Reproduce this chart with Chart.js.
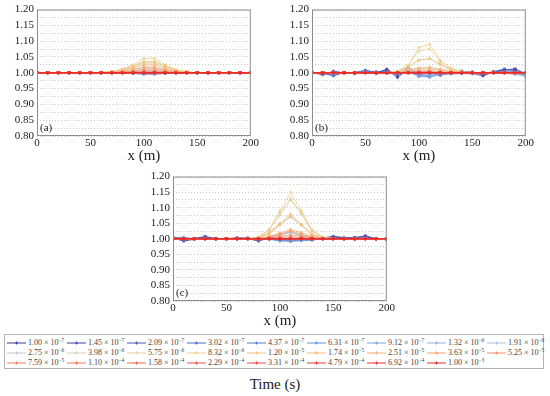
<!DOCTYPE html>
<html>
  <head>
    <title>Profiles at different times</title>
    <script src="https://cdn.jsdelivr.net/npm/chart.js"></script>
    <style>
      body {
        margin: 0;
        width: 550px;
        height: 396px;
        position: relative;
        background: #fff;
        font-family: "Liberation Serif", serif;
        overflow: hidden;
      }

      .panel {
        position: absolute;
      }

      #legend {
        position: absolute;
        left: 4px;
        top: 334px;
        width: 540px;
        height: 35px;
        border: 1px solid #b4b4b4;
        box-sizing: border-box;
        padding: 3px 0 0 2px;
        display: grid;
        grid-template-columns: repeat(9, 60px);
        grid-auto-rows: 10px;
      }

      .item {
        display: flex;
        align-items: center;
        font-family: "Liberation Serif", serif;
        font-size: 8px;
        color: #444;
        white-space: nowrap;
        line-height: 10px;
      }

      .item svg {
        margin-right: 2px;
        flex: none;
      }

      .item sup {
        font-size: 5.5px;
        line-height: 0;
        vertical-align: 3px;
      }

      #time {
        position: absolute;
        left: 0;
        width: 550px;
        top: 376px;
        text-align: center;
        font-size: 15px;
        color: #222;
      }
    </style>
  </head>
  <body>
    <canvas id="chartA" class="panel" style="left:0px;top:0px"></canvas>
    <canvas id="chartB" class="panel" style="left:275px;top:0px"></canvas>
    <canvas id="chartC" class="panel" style="left:136px;top:167px"></canvas>
    <div id="legend"></div>
    <div id="time">Time (s)</div>

    <script>
      // positions along x (m)
      const xs = [0, 10, 20, 30, 40, 50, 60, 70, 80, 90, 100, 110, 120, 130, 140, 150, 160, 170, 180, 190, 200];

      // time labels: mantissa x 10^exponent
      const mant = ["1.00", "1.45", "2.09", "3.02", "4.37", "6.31", "9.12", "1.32", "1.91",
                    "2.75", "3.98", "5.75", "8.32", "1.20", "1.74", "2.51", "3.63", "5.25",
                    "7.59", "1.10", "1.58", "2.29", "3.31", "4.79", "6.92", "1.00"];
      const expo = [-7, -7, -7, -7, -7, -7, -7, -6, -6,
                    -6, -6, -6, -6, -5, -5, -5, -5, -5,
                    -5, -4, -4, -4, -4, -4, -4, -3];

      const colors = ["#3c3c9c", "#4243aa", "#4b56b8", "#5068c4", "#5a7ccf", "#6890d8", "#7ea3de", "#97b3dd", "#adbfd6",
                      "#c4c7c9", "#d5d0b2", "#e3d59e", "#eccf8c", "#f5c47f", "#f8bb7c", "#f9ae76", "#f89f6c", "#f69063",
                      "#f4815c", "#f27256", "#f0634f", "#ee5449", "#ec4541", "#ea3a3a", "#e83232", "#e62a2a"];

      const FLAT = [1, 1, 1, 1, 1, 1, 1, 1, 1, 1, 1, 1, 1, 1, 1, 1, 1, 1, 1, 1, 1];

      // panel (a)
      const panelA = [
        FLAT, FLAT, FLAT, FLAT, FLAT,
        [1, 1, 1, 1, 1, 1, 1, 1, 1, 0.998, 0.996, 0.996, 0.998, 1, 1, 1, 1, 1, 1, 1, 1],
        [1, 1, 1, 1, 1, 1, 1, 1, 1, 0.998, 0.995, 0.995, 0.998, 1, 1, 1, 1, 1, 1, 1, 1],
        [1, 1, 1, 1, 1, 1, 1, 1, 1, 1.004, 1.006, 1.006, 1.004, 1, 1, 1, 1, 1, 1, 1, 1],
        [1, 1, 1, 1, 1, 1, 1, 1, 1.002, 1.006, 1.012, 1.012, 1.006, 1.002, 1, 1, 1, 1, 1, 1, 1],
        [1, 1, 1, 1, 1, 1, 1, 1.002, 1.005, 1.010, 1.018, 1.018, 1.010, 1.005, 1.002, 1, 1, 1, 1, 1, 1],
        [1, 1, 1, 1, 1, 1, 1, 1.002, 1.008, 1.016, 1.028, 1.028, 1.016, 1.006, 1.002, 1, 1, 1, 1, 1, 1],
        [1, 1, 1, 1, 1, 1, 1.001, 1.003, 1.010, 1.022, 1.036, 1.036, 1.022, 1.008, 1.003, 1, 1, 1, 1, 1, 1],
        [1, 1, 1, 1, 1, 1, 1.002, 1.004, 1.012, 1.025, 1.045, 1.045, 1.025, 1.010, 1.004, 1, 1, 1, 1, 1, 1],
        [1, 1, 1, 1, 1, 1, 1.001, 1.004, 1.010, 1.022, 1.033, 1.033, 1.022, 1.008, 1.003, 1, 1, 1, 1, 1, 1],
        [1, 1, 1, 1, 1, 1, 1, 1.003, 1.008, 1.016, 1.025, 1.025, 1.016, 1.006, 1.002, 1, 1, 1, 1, 1, 1],
        [1, 1, 1, 1, 1, 1, 1, 1, 1.005, 1.010, 1.018, 1.018, 1.010, 1.004, 1, 1, 1, 1, 1, 1, 1],
        [1, 1, 1, 1, 1, 1, 1, 1, 1.003, 1.006, 1.012, 1.012, 1.006, 1.002, 1, 1, 1, 1, 1, 1, 1],
        [1, 1, 1, 1, 1, 1, 1, 1, 1, 1.003, 1.006, 1.006, 1.003, 1, 1, 1, 1, 1, 1, 1, 1],
        [1, 1, 1, 1, 1, 1, 1, 1, 1, 1, 1.003, 1.003, 1, 1, 1, 1, 1, 1, 1, 1, 1],
        FLAT, FLAT, FLAT, FLAT, FLAT, FLAT, FLAT
      ];

      // panel (b)
      const panelB = [
        [1.000, 0.994, 1.005, 1.000, 0.997, 1.004, 0.997, 1.010, 0.985, 1.012, 1.000, 1.006, 0.992, 1.000, 1.006, 0.998, 0.990, 1.003, 1.008, 1.013, 0.997],
        [1.000, 0.996, 1.003, 0.999, 0.998, 1.006, 0.999, 1.012, 0.990, 1.008, 1.002, 1.004, 0.994, 1.001, 1.004, 1.003, 0.993, 1.002, 1.010, 1.010, 0.995],
        [1.000, 0.998, 0.992, 1.000, 1.001, 1.008, 1.002, 1.008, 0.996, 1.015, 0.998, 1.002, 0.996, 1.003, 1.000, 1.000, 0.996, 1.004, 1.012, 1.006, 0.993],
        [1.000, 0.999, 0.990, 1.002, 1.000, 1.005, 1.004, 1.004, 0.998, 1.010, 0.994, 0.998, 0.998, 1.000, 0.998, 0.997, 1.000, 1.002, 1.006, 1.004, 0.990],
        [1.000, 1.000, 0.995, 1.001, 1.000, 1.003, 1.000, 1.002, 1.000, 1.006, 0.990, 0.992, 0.996, 0.998, 1.000, 0.998, 1.002, 1.000, 1.004, 1.000, 0.990],
        [1.000, 1.000, 0.996, 1.000, 1.001, 1.002, 1.002, 1.000, 0.998, 1.004, 0.988, 0.988, 0.995, 0.996, 0.998, 0.997, 1.000, 1.001, 1.002, 0.998, 0.988],
        [1.000, 1.000, 0.998, 1.000, 1.000, 1.001, 1.000, 0.998, 0.999, 1.003, 0.992, 0.985, 0.996, 0.997, 0.998, 0.998, 1.000, 1.000, 1.001, 0.997, 0.989],
        [1.000, 1.000, 0.999, 1.000, 1.000, 1.000, 1.000, 0.999, 1.000, 1.004, 1.000, 0.995, 0.998, 0.998, 0.999, 0.999, 1.000, 1.000, 1.000, 0.996, 0.990],
        [1.000, 1.000, 1.000, 1.000, 1.000, 1.000, 1.000, 1.000, 1.001, 1.008, 1.006, 1.004, 1.000, 0.999, 1.000, 1.000, 1.000, 1.000, 1.000, 0.995, 0.989],
        [1, 1, 1, 1, 1, 1, 1, 1, 1.002, 1.010, 1.015, 1.015, 1.008, 1.003, 1, 1, 1, 1, 0.998, 0.995, 0.990],
        [1, 1, 1, 1, 1, 1, 1, 1, 1.005, 1.020, 1.040, 1.045, 1.025, 1.008, 1.002, 1, 1, 1, 1, 1, 1],
        [1, 1, 1, 1, 1, 1, 1, 1, 1.003, 1.025, 1.068, 1.076, 1.035, 1.012, 1.003, 1, 1, 1, 1, 1, 1],
        [1, 1, 1, 1, 1, 1, 1, 1, 1.005, 1.022, 1.080, 1.090, 1.040, 1.015, 1.004, 1, 1, 1, 1, 1, 1],
        [1, 1, 1, 1, 1, 1, 1, 1, 1.003, 1.018, 1.040, 1.045, 1.028, 1.010, 1.002, 1, 1, 1, 1, 1, 1],
        [1, 1, 1, 1, 1, 1, 1, 1, 1.002, 1.010, 1.015, 1.018, 1.012, 1.005, 1, 1, 1, 1, 1, 1, 1],
        [1, 1, 1, 1, 1, 1, 1, 1, 1, 1.005, 1.010, 1.012, 1.008, 1.003, 1, 1, 1, 1, 1, 1, 1],
        [1, 1, 1, 1, 1, 1, 1, 1, 1, 1.002, 1.005, 1.006, 1.004, 1, 1, 1, 1, 1, 1, 1, 1],
        [1, 1, 1, 1, 1, 1, 1, 1, 1, 1, 1.003, 1.003, 1.002, 1, 1, 1, 1, 1, 1, 1, 1],
        FLAT, FLAT, FLAT, FLAT, FLAT, FLAT, FLAT, FLAT
      ];

      // panel (c)
      const panelC = [
        [1.003, 0.993, 0.998, 1.006, 0.998, 1.000, 1.004, 1.000, 0.993, 1.002, 1.000, 1.000, 1.000, 1.000, 1.003, 1.008, 1.004, 1.002, 1.010, 1.000, 1.000],
        [1.000, 0.995, 1.000, 1.008, 1.000, 0.999, 1.002, 1.002, 0.995, 1.004, 0.998, 0.998, 1.002, 0.999, 1.002, 1.006, 1.003, 1.004, 1.008, 0.999, 0.998],
        [1.005, 1.000, 1.002, 1.004, 1.002, 0.999, 1.001, 1.003, 0.997, 1.006, 1.000, 0.996, 1.000, 0.998, 1.000, 1.004, 1.002, 1.005, 1.006, 1.000, 0.997],
        [1.004, 1.004, 1.000, 1.002, 1.001, 1.000, 1.000, 1.001, 1.000, 1.003, 0.996, 0.994, 0.998, 0.997, 1.001, 1.002, 1.000, 1.002, 1.003, 1.000, 0.998],
        [1.002, 1.003, 1.000, 1.001, 1.000, 1.000, 1.000, 1.000, 0.998, 1.000, 0.994, 0.993, 0.995, 0.996, 1.000, 1.001, 1.000, 1.000, 1.002, 1.000, 0.999],
        [1.001, 1.002, 1.000, 1.000, 1.000, 1.000, 1.000, 1.000, 0.999, 0.998, 0.993, 0.992, 0.994, 0.996, 1.000, 1.000, 1.000, 0.998, 1.001, 1.000, 1.000],
        [1, 1, 1, 1, 1, 1, 1, 1, 1, 1, 0.996, 0.995, 0.998, 0.999, 1, 1, 1, 0.997, 1, 1, 1],
        [1, 1, 1, 1, 1, 1, 1, 1, 1, 1.005, 1.012, 1.020, 1.010, 1.004, 1, 1, 1, 1, 1, 1, 1],
        [1, 1, 1, 1, 1, 1, 1, 1, 1, 1.005, 1.015, 1.022, 1.012, 1.005, 1, 1, 1, 1, 1, 1, 1],
        [1, 1, 1, 1, 1, 1, 1, 1, 1.003, 1.020, 1.045, 1.070, 1.045, 1.015, 1.003, 1, 1, 1, 1, 1, 1],
        [1, 1, 1, 1, 1, 1, 1, 1, 1.005, 1.030, 1.075, 1.125, 1.080, 1.025, 1.005, 1, 1, 1, 1, 1, 1],
        [1, 1, 1, 1, 1, 1, 1, 1, 1.006, 1.030, 1.090, 1.150, 1.090, 1.030, 1.006, 1, 1, 1, 1, 1, 1],
        [1, 1, 1, 1, 1, 1, 1, 1, 1.005, 1.028, 1.085, 1.130, 1.085, 1.028, 1.005, 1, 1, 1, 1, 1, 1],
        [1, 1, 1, 1, 1, 1, 1, 1, 1.004, 1.020, 1.050, 1.080, 1.045, 1.015, 1.003, 1, 1, 1, 1, 1, 1],
        [1, 1, 1, 1, 1, 1, 1, 1, 1.003, 1.015, 1.045, 1.075, 1.045, 1.012, 1.002, 1, 1, 1, 1, 1, 1],
        [1, 1, 1, 1, 1, 1, 1, 1, 1, 1.008, 1.018, 1.030, 1.020, 1.008, 1, 1, 1, 1, 1, 1, 1],
        [1, 1, 1, 1, 1, 1, 1, 1, 1, 1.006, 1.015, 1.025, 1.015, 1.005, 1, 1, 1, 1, 1, 1, 1],
        [1, 1, 1, 1, 1, 1, 1, 1, 1, 1.003, 1.008, 1.012, 1.008, 1.003, 1, 1, 1, 1, 1, 1, 1],
        [1, 1, 1, 1, 1, 1, 1, 1, 1, 1, 1.004, 1.006, 1.004, 1, 1, 1, 1, 1, 1, 1, 1],
        FLAT, FLAT, FLAT, FLAT, FLAT, FLAT, FLAT
      ];

      const serif = "'Liberation Serif', serif";

      // frame around the plot area plus the panel letter
      const framePlugin = {
        id: "frame",
        afterDraw(chart, args, opts) {
          const a = chart.chartArea;
          const ctx = chart.ctx;
          ctx.save();
          ctx.strokeStyle = "#8c8c8c";
          ctx.lineWidth = 1;
          ctx.strokeRect(a.left + 0.5, a.top + 0.5, a.right - a.left - 1, a.bottom - a.top - 1);
          ctx.fillStyle = "#222";
          ctx.font = "11px " + serif;
          ctx.textBaseline = "bottom";
          ctx.fillText(opts.letter, a.left + 3, a.bottom - 2);
          ctx.restore();
        },
      };

      function makeChart(id, series, letter) {
        const canvas = document.getElementById(id);
        canvas.width = 260;
        canvas.height = id === "chartC" ? 163 : 165;
        canvas.style.width = "260px";
        canvas.style.height = canvas.height + "px";

        const datasets = series.map((vals, i) => ({
          label: mant[i] + "e" + expo[i],
          data: vals.map((v, j) => ({ x: xs[j], y: v })),
          borderColor: colors[i],
          backgroundColor: colors[i],
          borderWidth: i >= 19 ? 1.1 : 0.8,
          pointStyle: "star",
          pointRadius: 1.6,
          pointBorderWidth: 0.7,
          fill: false,
          order: series.length - i,
        }));

        return new Chart(canvas.getContext("2d"), {
          type: "line",
          data: { datasets: datasets },
          plugins: [framePlugin],
          options: {
            responsive: false,
            animation: false,
            events: [],
            layout: { padding: { top: 8, right: 9, left: 0, bottom: 0 } },
            plugins: {
              legend: { display: false },
              tooltip: { enabled: false },
              frame: { letter: letter },
            },
            scales: {
              x: {
                type: "linear",
                min: 0,
                max: 200,
                afterFit: (s) => { s.height = 29; },
                ticks: {
                  stepSize: 25,
                  autoSkip: false,
                  maxRotation: 0,
                  padding: 1,
                  color: "#222",
                  font: { family: serif, size: 11 },
                  callback: (v) => (v % 50 === 0 ? v : ""),
                },
                grid: { color: "#ececec", drawTicks: false },
                border: { display: false, dash: [1, 2] },
                title: {
                  display: true,
                  text: "x (m)",
                  color: "#222",
                  padding: { top: 0, bottom: 0 },
                  font: { family: serif, size: 15 },
                },
              },
              y: {
                min: 0.8,
                max: 1.2,
                afterFit: (s) => { s.width = 37; },
                ticks: {
                  stepSize: 0.025,
                  autoSkip: false,
                  padding: 3,
                  color: "#222",
                  font: { family: serif, size: 11 },
                  callback: (v) => {
                    const k = Math.round(v * 1000);
                    return k % 50 === 0 ? (k / 1000).toFixed(2) : "";
                  },
                },
                grid: { color: "#c8c8c8", drawTicks: false },
                border: { display: false, dash: [1, 2] },
              },
            },
          },
        });
      }

      makeChart("chartA", panelA, "(a)");
      makeChart("chartB", panelB, "(b)");
      makeChart("chartC", panelC, "(c)");

      // legend built from the same label and colour arrays
      const legend = document.getElementById("legend");
      mant.forEach((m, i) => {
        const item = document.createElement("div");
        item.className = "item";
        item.innerHTML =
          '<svg width="19" height="8"><line x1="0" y1="4" x2="19" y2="4" stroke="' + colors[i] +
          '" stroke-width="1"/><path d="M9.5 1.8 L10.1 3.4 L11.7 4 L10.1 4.6 L9.5 6.2 L8.9 4.6 L7.3 4 L8.9 3.4 Z" fill="' +
          colors[i] + '"/></svg>' +
          "<span>" + m + " \u00d7 10<sup>\u2212" + Math.abs(expo[i]) + "</sup></span>";
        legend.appendChild(item);
      });
    </script>
  </body>
</html>
